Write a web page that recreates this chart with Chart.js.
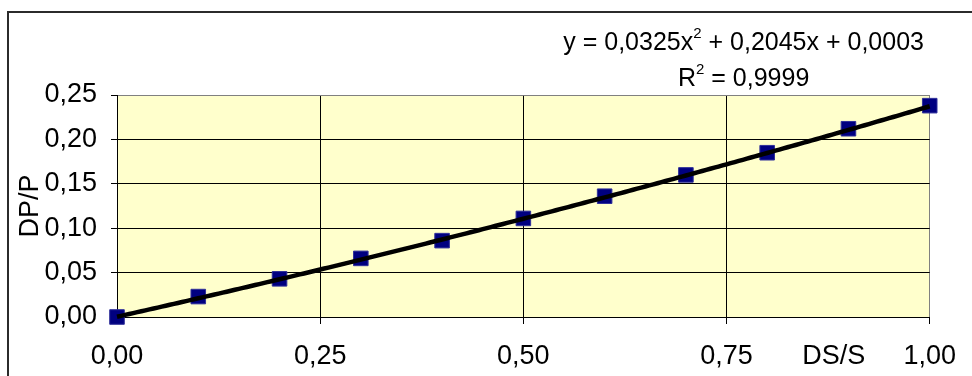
<!DOCTYPE html>
<html>
<head>
<meta charset="utf-8">
<script src="https://cdn.jsdelivr.net/npm/chart.js@4.4.1/dist/chart.umd.min.js"></script>
<style>
  html, body { margin: 0; padding: 0; background: #fff; }
  #wrap { position: relative; width: 972px; height: 376px; }
</style>
</head>
<body>
<div id="wrap"><canvas id="chart"></canvas></div>
<script>
// Measured series: relative stroke change vs. relative pressure change
const dsRatio = [0.0, 0.1, 0.2, 0.3, 0.4, 0.5, 0.6, 0.7, 0.8, 0.9, 1.0];
const dpRatio = [0.000, 0.023, 0.043, 0.066, 0.086, 0.111, 0.136, 0.160, 0.185, 0.212, 0.238];

// Quadratic trendline y = a*x^2 + b*x + c and its fit quality
const trendCoefficients = [0.0325, 0.2045, 0.0003];
const trendTerms = ['0,0325', '0,2045', '0,0003'];
const rSquaredText = '0,9999';

// Axis tick labels (decimal comma)
const xTickLabels = ['0,00', '0,25', '0,50', '0,75', '1,00'];
const yTickLabels = ['0,00', '0,05', '0,10', '0,15', '0,20', '0,25'];

const FONT = "'Liberation Sans', Arial, Helvetica, sans-serif";

const frame = {
  id: 'frame',
  beforeDraw(chart) {
    const { ctx, chartArea: a } = chart;
    ctx.save();
    ctx.fillStyle = '#ffffff';
    ctx.fillRect(0, 0, chart.width, chart.height);
    // outer chart border (runs off the right and bottom edges)
    ctx.strokeStyle = '#2b2b2b';
    ctx.lineWidth = 2;
    ctx.strokeRect(8, 12, chart.width + 20, chart.height + 20);
    // plot area fill
    ctx.fillStyle = '#ffffcc';
    ctx.fillRect(a.left, a.top, a.right - a.left, a.bottom - a.top);
    ctx.restore();
  }
};

const trendline = {
  id: 'trendline',
  afterDatasetsDraw(chart) {
    const { ctx } = chart;
    const xs = chart.scales.x, ys = chart.scales.y;
    const [a, b, c] = trendCoefficients;
    const x0 = dsRatio[0], x1 = dsRatio[dsRatio.length - 1];
    const steps = 200;
    ctx.save();
    ctx.beginPath();
    for (let i = 0; i <= steps; i++) {
      const x = x0 + (x1 - x0) * i / steps;
      const y = a * x * x + b * x + c;
      const px = xs.getPixelForValue(x), py = ys.getPixelForValue(y);
      if (i === 0) ctx.moveTo(px, py); else ctx.lineTo(px, py);
    }
    ctx.strokeStyle = '#000000';
    ctx.lineWidth = 4.5;
    ctx.lineJoin = 'round';
    ctx.lineCap = 'butt';
    ctx.stroke();
    ctx.restore();
  }
};

// draws a run of [text, isSuperscript] pieces centred on cx with baseline y
function drawRich(ctx, pieces, cx, y, size, supSize, supRise) {
  const widths = pieces.map(([t, sup]) => {
    ctx.font = (sup ? supSize : size) + 'px ' + FONT;
    return ctx.measureText(t).width;
  });
  const total = widths.reduce((s, w) => s + w, 0);
  let x = cx - total / 2;
  pieces.forEach(([t, sup], i) => {
    ctx.font = (sup ? supSize : size) + 'px ' + FONT;
    ctx.fillText(t, x, sup ? y - supRise : y);
    x += widths[i];
  });
}

const annotations = {
  id: 'annotations',
  afterDraw(chart) {
    const { ctx, chartArea: a } = chart;
    const w = a.right - a.left;
    ctx.save();
    ctx.fillStyle = '#000000';
    ctx.textAlign = 'left';
    ctx.textBaseline = 'alphabetic';
    const cx = a.left + 0.771 * w;
    drawRich(ctx, [
      ['y = ' + trendTerms[0] + 'x', false], ['2', true],
      [' + ' + trendTerms[1] + 'x + ' + trendTerms[2], false]
    ], cx, a.top - 45, 25, 15, 12);
    drawRich(ctx, [['R', false], ['2', true], [' = ' + rSquaredText, false]],
      cx, a.top - 9, 25, 15, 12);

    // axis titles
    ctx.font = '27px ' + FONT;
    ctx.textAlign = 'center';
    ctx.textBaseline = 'middle';
    ctx.fillText('DS/S', a.left + 0.882 * w, 356.5);
    ctx.translate(31, (a.top + a.bottom) / 2);
    ctx.rotate(-Math.PI / 2);
    ctx.fillText('DP/P', 0, 0);
    ctx.restore();
  }
};

const tickFont = { family: FONT, size: 27 };

new Chart(document.getElementById('chart'), {
  type: 'scatter',
  data: {
    datasets: [{
      data: dsRatio.map((x, i) => ({ x, y: dpRatio[i] })),
      pointStyle: 'rect',
      pointRadius: 10.3,
      pointHoverRadius: 10.3,
      backgroundColor: '#000080',
      borderColor: '#2f2f9a',
      borderWidth: 1,
      showLine: false,
      clip: false
    }]
  },
  options: {
    responsive: true,
    maintainAspectRatio: false,
    animation: false,
    devicePixelRatio: 1,
    layout: { padding: { left: 0, top: 95, right: 40, bottom: 0 } },
    plugins: { legend: { display: false }, tooltip: { enabled: false } },
    events: [],
    scales: {
      x: {
        type: 'linear',
        min: 0, max: 1,
        ticks: {
          stepSize: 0.25,
          color: '#000',
          font: tickFont,
          padding: 16,
          maxRotation: 0,
          callback: (v, i) => xTickLabels[i]
        },
        grid: {
          color: (c) => (c.tick && c.tick.value >= 1 - 1e-9) ? '#808080' : '#000000',
          lineWidth: 1,
          tickColor: '#000000',
          tickLength: 7
        },
        border: { color: '#000000', width: 1 },
        afterFit: (s) => { s.height = 59; }
      },
      y: {
        type: 'linear',
        min: 0, max: 0.25,
        ticks: {
          stepSize: 0.05,
          color: '#000',
          font: tickFont,
          padding: 14,
          callback: (v, i) => yTickLabels[i]
        },
        grid: {
          color: (c) => (c.tick && c.tick.value >= 0.25 - 1e-9) ? '#808080' : '#000000',
          lineWidth: 1,
          tickColor: '#000000',
          tickLength: 6
        },
        border: { color: '#000000', width: 1 },
        afterFit: (s) => { s.width = 117; }
      }
    }
  },
  plugins: [frame, trendline, annotations]
});
</script>
</body>
</html>
